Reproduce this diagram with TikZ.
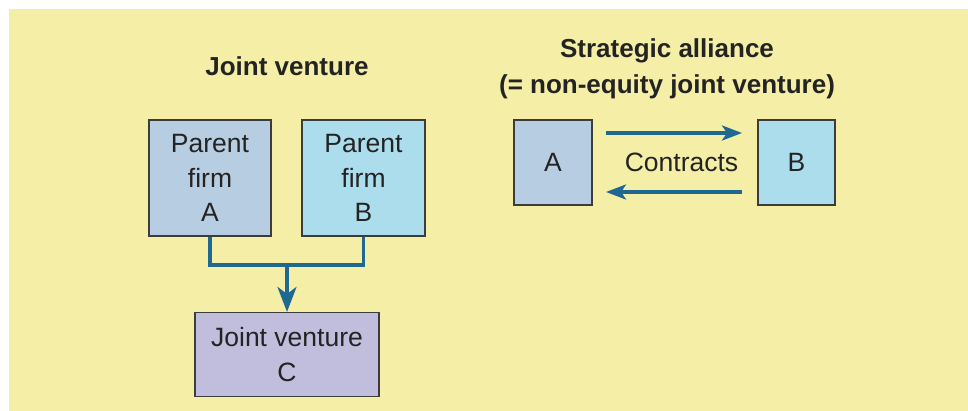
\documentclass[tikz,border=0pt]{standalone}
\usepackage{fontspec}
\setmainfont{Liberation Sans}
\usetikzlibrary{arrows.meta}
\definecolor{bgyellow}{RGB}{245,238,166}
\definecolor{boxA}{RGB}{183,206,226}
\definecolor{boxB}{RGB}{172,221,236}
\definecolor{boxC}{RGB}{192,190,220}
\definecolor{arrowblue}{RGB}{31,104,146}
\definecolor{edgegray}{RGB}{60,60,60}
\definecolor{txt}{RGB}{35,35,35}
\tikzset{
  firmbox/.style={draw=edgegray, line width=1.5pt, inner sep=0pt, align=center, text=txt,
    font=\fontsize{26.5}{34.5}\selectfont},
  titletext/.style={text=txt, font=\fontsize{26}{36}\selectfont\bfseries, align=center, inner sep=0pt},
  plaintext/.style={text=txt, font=\fontsize{26.5}{34.5}\selectfont, inner sep=0pt},
  link/.style={draw=arrowblue, line width=3.3pt},
  vtip/.style={-{Stealth[length=25pt,width=19pt,inset=7pt]}},
  htip/.style={-{Stealth[length=20pt,width=15pt,inset=5pt]}}
}
\begin{document}
\begin{tikzpicture}[x=1pt,y=-1pt]
\useasboundingbox (0,0) rectangle (968,411);
\fill[white] (0,0) rectangle (968,411);
\fill[bgyellow] (9,9) rectangle (968,411);

% left: joint venture
\node[titletext, anchor=base] (t1) at (287,76) {Joint venture};
\node[firmbox, fill=boxA, minimum width=122pt, minimum height=116pt] (pa) at (210,178) {Parent\\firm\\A};
\node[firmbox, fill=boxB, minimum width=123pt, minimum height=116pt] (pb) at (363.5,178) {Parent\\firm\\B};
\node[firmbox, fill=boxC, minimum width=184pt, minimum height=84pt] (jv) at (287,354.7) {Joint venture\\C};
\coordinate (mid) at (287,265);
\draw[link, line cap=butt] (pa.south) |- (mid) -| (pb.south);
\draw[link, vtip] (mid) -- (jv.north);

% right: strategic alliance
\node[titletext, anchor=base] (t2) at (667,57.3) {Strategic alliance};
\node[titletext, anchor=base] (t3) at (667,93.3) {(= non-equity joint venture)};
\node[firmbox, fill=boxA, minimum width=78pt, minimum height=85pt] (sa) at (553,162.5) {A};
\node[firmbox, fill=boxB, minimum width=77pt, minimum height=85pt] (sb) at (796.5,162.5) {B};
\node[plaintext] (ct) at (681.5,162) {Contracts};
\coordinate (a1) at (606,133);
\coordinate (a2) at (742,133);
\coordinate (b1) at (742,192);
\coordinate (b2) at (606,192);
\draw[link, htip] (a1) -- (a2);
\draw[link, htip] (b1) -- (b2);
\end{tikzpicture}
\end{document}
